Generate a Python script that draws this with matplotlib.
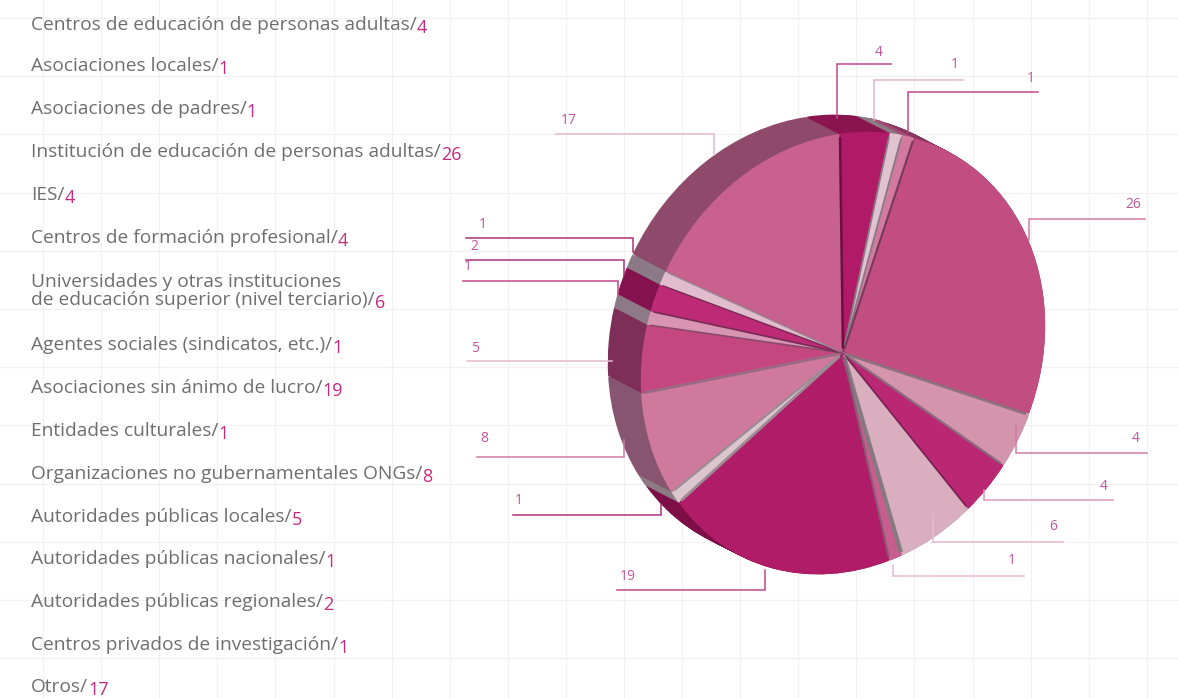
#!/usr/bin/env python
"""Tarta en falso 3D: entidades participantes, con etiquetas y guias."""

import matplotlib
matplotlib.use("Agg")
import matplotlib.pyplot as plt
import numpy as np
from matplotlib.transforms import Affine2D

plt.rcParams["font.family"] = ["Open Sans", "DejaVu Sans"]

names = [
    "Centros de educación de personas adultas",
    "Asociaciones locales",
    "Asociaciones de padres",
    "Institución de educación de personas adultas",
    "IES",
    "Centros de formación profesional",
    "Universidades y otras instituciones\nde educación superior (nivel terciario)",
    "Agentes sociales (sindicatos, etc.)",
    "Asociaciones sin ánimo de lucro",
    "Entidades culturales",
    "Organizaciones no gubernamentales ONGs",
    "Autoridades públicas locales",
    "Autoridades públicas nacionales",
    "Autoridades públicas regionales",
    "Centros privados de investigación",
    "Otros",
]
values = [4, 1, 1, 26, 4, 4, 6, 1, 19, 1, 8, 5, 1, 2, 1, 17]

top_colors = ["#b01a66", "#e0c2d0", "#d27a9f", "#c24d80", "#d494ac", "#ba2873",
              "#d9aebf", "#c85e8e", "#b11c68", "#dcc6ce", "#cf7a9c", "#c4487f",
              "#d895b3", "#bd2b76", "#e0bccc", "#c9618e"]
side_colors = ["#8a1450", "#8c7a85", "#a04d75", "#8a3560", "#8f6a7c", "#84124e",
               "#8c7a85", "#85506c", "#7d0e48", "#8c7b84", "#875570", "#7e2f58",
               "#8e7a86", "#84124e", "#8b7a85", "#8f4a6b"]
wall_colors = ["#8a7a84", "#8a7a84", "#7a3a5c", "#8e6f80", "#8a6a7c", "#7a2050",
               "#857a80", "#8a5a74", "#a08a95", "#9c8a94", "#9a6a85", "#8a4a6c",
               "#7a2a55", "#7a2a55", "#a08a95", "#6b0f42"]
wall_widths = [1.3, 1.3, 1.5, 2, 1.6, 1.2, 3, 1.5, 2, 1.6, 2, 1.2, 1.2, 1, 1, 1.8]
line_colors = ["#c2488c", "#e2b6cd", "#c2488c", "#d27aa6", "#d27aa6", "#db98ba",
               "#e6b8cf", "#e6b8cf", "#c2488c", "#b0307c", "#d27aa6", "#e6b8cf",
               "#c2488c", "#b0307c", "#b0307c", "#e6b8cf"]

# guias de cada porcion, en pixeles: recorrido y posicion del numero
leaders = [
    ([(837, 118), (837, 64), (891, 64)], (879, 53)),
    ([(874, 120), (874, 80), (963, 80)], (955, 64)),
    ([(908, 132), (908, 92), (1038, 92)], (1031, 78)),
    ([(1029, 240), (1029, 219), (1145, 219)], (1133, 204)),
    ([(1016, 425), (1016, 453), (1147, 453)], (1136, 439)),
    ([(984, 490), (984, 500), (1113, 500)], (1104, 487)),
    ([(933, 515), (933, 542), (1063, 542)], (1053, 526)),
    ([(893, 565), (893, 576), (1024, 576)], (1012, 560)),
    ([(765, 570), (765, 590), (617, 590)], (628, 576)),
    ([(661, 505), (661, 515), (513, 515)], (519, 501)),
    ([(624, 440), (624, 457), (477, 457)], (484, 439)),
    ([(612, 361), (467, 361)], (475, 348)),
    ([(618, 296), (618, 281), (463, 281)], (468, 267)),
    ([(624, 275), (624, 260), (466, 260)], (474, 247)),
    ([(633, 252), (633, 238), (466, 238)], (483, 224)),
    ([(714, 155), (714, 134), (556, 134)], (569, 120)),
]
label_y = [25, 66, 109, 152, 195, 238, 291, 345, 388, 431, 474, 517, 559, 602, 645, 687]

DEPTH = (-33, -17)
STEPS = 34


def pie_transform(ax, shift=(0, 0)):
    # circulo unidad -> elipse inclinada de la tarta, en pixeles
    return Affine2D.from_values(201, -30, -3, -218, 843 + shift[0], 353 + shift[1]) + ax.transData


def draw_pie(ax, colors, shift, explode):
    wedges, _ = ax.pie(values, colors=colors, startangle=90, counterclock=False,
                       explode=explode)
    for w in wedges:
        w.set_transform(pie_transform(ax, shift))
        w.set_linewidth(0)


fig = plt.figure(figsize=(11.78, 6.98), dpi=100)
ax = fig.add_axes([0, 0, 1, 1])

explode = [0.006] * len(values)
for f in np.linspace(1, 0, STEPS):
    draw_pie(ax, side_colors, (DEPTH[0] * f, DEPTH[1] * f), explode)
draw_pie(ax, top_colors, (0, 0), explode)

# paredes entre porciones, al final de cada una
ends = np.cumsum(values) / np.sum(values) * 2 * np.pi
for ang, col, lw in zip(ends, wall_colors, wall_widths):
    ax.plot([0.02 * np.sin(ang), 0.99 * np.sin(ang)],
            [0.02 * np.cos(ang), 0.99 * np.cos(ang)],
            color=col, lw=lw, solid_capstyle="butt",
            transform=pie_transform(ax), zorder=3)

# pie() toca limites y aspecto: volvemos a pixeles
ax.set_aspect("auto")
ax.set_xlim(0, 1178)
ax.set_ylim(698, 0)
ax.set_frame_on(False)
ax.set_xticks(np.arange(43, 1178, 58.1))
ax.set_yticks(np.arange(18, 698, 58.2))
ax.tick_params(length=0, labelbottom=False, labelleft=False)
ax.grid(True, color="#f2f0f1", lw=0.9)
ax.set_axisbelow(True)

for (pts, num_pos), val, col in zip(leaders, values, line_colors):
    xs, ys = zip(*pts)
    ax.plot(xs, ys, color=col, lw=1.1, solid_joinstyle="miter", zorder=1)
    ax.text(num_pos[0], num_pos[1], str(val), color="#c4559a", fontsize=10,
            ha="center", va="center")

for name, val, y in zip(names, values, label_y):
    t = ax.text(31, y, name + "/", color="#6e6e6e", fontsize=13.8,
                ha="left", va="center", linespacing=1.02)
    ax.annotate(str(val), xy=(1, 0), xycoords=t, xytext=(0, -2),
                textcoords="offset points", color="#c62a80", fontsize=13,
                ha="left", va="bottom")

fig.savefig("out.png", dpi=100)
